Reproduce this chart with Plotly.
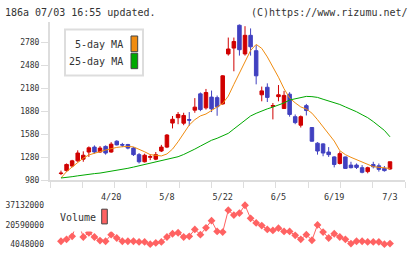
import numpy as np
import plotly.graph_objects as go

W, H = 420, 259

# ---- data ----
date_labels = ["4/20", "5/8", "5/22", "6/5", "6/19", "7/3"]
label_days = [9, 19, 29, 39, 49, 59]

price_ticks = [980, 1280, 1580, 1880, 2180, 2480, 2780]
vol_ticks = [4048000, 20590000, 37132000]

open_ = [1070, 1108, 1168, 1235, 1257, 1350, 1414, 1350, 1423, 1350,
         1491, 1448, 1448, 1401, 1316, 1223, 1282, 1257, 1363, 1414,
         1727, 1797, 1725, 1772, 1895, 2107, 1925, 2065, 2058, 1976,
         2627, 2703, 3000, 2627, 2869, 2669, 2095, 2193, 1945, 2071,
         1916, 2103, 1810, 1699, 1954, 1669, 1465, 1456, 1350, 1286,
         1201, 1286, 1180, 1180, 1146, 1095, 1188, 1171, 1137, 1129]
high = [1108, 1201, 1248, 1372, 1359, 1423, 1436, 1427, 1436, 1478,
        1503, 1469, 1456, 1414, 1337, 1329, 1321, 1350, 1443, 1584,
        1819, 1870, 1861, 1870, 2052, 2125, 2171, 2150, 2085, 2350,
        2840, 2840, 3010, 2988, 2959, 2742, 2202, 2244, 1988, 2222,
        2146, 2129, 1839, 1826, 1976, 1675, 1478, 1465, 1414, 1295,
        1359, 1290, 1223, 1201, 1180, 1159, 1223, 1201, 1168, 1223]
low = [1050, 1095, 1152, 1223, 1223, 1286, 1329, 1341, 1316, 1341,
       1436, 1414, 1385, 1299, 1201, 1214, 1244, 1244, 1350, 1401,
       1657, 1712, 1699, 1691, 1861, 1882, 1903, 1870, 1822, 1967,
       2605, 2401, 2605, 2605, 2605, 2231, 2010, 2001, 1775, 2010,
       1912, 1810, 1712, 1669, 1826, 1485, 1316, 1295, 1286, 1150,
       1188, 1133, 1137, 1129, 1073, 1073, 1137, 1095, 1095, 1120]
close = [1075, 1188, 1235, 1337, 1308, 1405, 1350, 1401, 1337, 1452,
         1443, 1440, 1401, 1316, 1223, 1308, 1290, 1316, 1414, 1571,
         1776, 1839, 1826, 1765, 1934, 1903, 2125, 1912, 1940, 2342,
         2691, 2789, 2682, 2869, 2720, 2342, 2146, 2061, 1955, 2095,
         2087, 1839, 1733, 1810, 1890, 1491, 1363, 1337, 1316, 1188,
         1329, 1137, 1146, 1150, 1086, 1146, 1159, 1124, 1108, 1223]
ma5 = [1012, 1095, 1155, 1216, 1270, 1312, 1337, 1355, 1376, 1395,
       1410, 1419, 1423, 1417, 1390, 1353, 1316, 1306, 1299, 1325,
       1388, 1484, 1599, 1701, 1771, 1820, 1845, 1886, 1937, 1982,
       2078, 2231, 2378, 2541, 2671, 2751, 2699, 2588, 2461, 2324,
       2174, 2052, 1990, 1937, 1909, 1856, 1771, 1682, 1593, 1493,
       1368, 1316, 1281, 1249, 1214, 1184, 1159, 1151, 1141, 1137]
ma25 = [1012, 1018, 1029, 1040, 1051, 1064, 1069, 1076, 1087, 1100,
        1114, 1126, 1138, 1154, 1171, 1184, 1203, 1216, 1233, 1251,
        1270, 1289, 1318, 1350, 1388, 1427, 1465, 1503, 1529, 1561,
        1593, 1650, 1708, 1765, 1819, 1854, 1886, 1912, 1935, 1960,
        1989, 2027, 2046, 2065, 2074, 2071, 2061, 2037, 2017, 1995,
        1969, 1937, 1908, 1874, 1835, 1797, 1746, 1689, 1631, 1548]
volume = [6550000, 8220000, 10720000, 24000000, 10170000, 13780000, 10170000, 7110000, 6550000, 12110000,
          9330000, 6550000, 6550000, 6550000, 6000000, 6000000, 4048000, 5160000, 6000000, 10170000,
          12940000, 13780000, 10170000, 10720000, 16560000, 12110000, 17950000, 24070000, 14890000, 14330000,
          32960000, 28790000, 30460000, 37132000, 26010000, 22120000, 19900000, 16560000, 15720000, 17670000,
          14890000, 14890000, 11550000, 8220000, 12110000, 7380000, 20450000, 14330000, 9330000, 12940000,
          10170000, 8220000, 4600000, 6550000, 6550000, 6000000, 6000000, 6000000, 4048000, 4600000]

days = list(range(len(close)))

# ---- styles ----
RED = "#d00000"
BLUE = "#4040c0"
ORANGE = "#f08c10"
GREEN = "#00a800"
VOLC = "#ff6262"
AXC = "#dddddd"
TXT = "#333333"
FONT = "DejaVu Sans Mono"


def px(p):
    return p / W


def py(p):
    return 1 - p / H


xr = [-1.97, 61.69]
yr = [980, 3048]
vr = [-952100, 44882155]

fig = go.Figure()
fig.add_trace(go.Candlestick(
    x=days, open=open_, high=high, low=low, close=close,
    increasing=dict(line=dict(color=RED, width=1), fillcolor=RED),
    decreasing=dict(line=dict(color=BLUE, width=1), fillcolor=BLUE),
    whiskerwidth=0, showlegend=False, hoverinfo="skip",
    xaxis="x", yaxis="y"))
fig.add_trace(go.Scatter(x=days, y=ma5, mode="lines", line=dict(color=ORANGE, width=1),
                         showlegend=False, hoverinfo="skip", xaxis="x", yaxis="y"))
fig.add_trace(go.Scatter(x=days, y=ma25, mode="lines", line=dict(color=GREEN, width=1),
                         showlegend=False, hoverinfo="skip", xaxis="x", yaxis="y"))
fig.add_trace(go.Scatter(x=days, y=volume, mode="lines+markers",
                         line=dict(color=VOLC, width=1),
                         marker=dict(symbol="diamond", size=6, color=VOLC),
                         showlegend=False, hoverinfo="skip", xaxis="x2", yaxis="y2"))

fig.update_layout(
    width=W, height=H, margin=dict(l=0, r=0, t=0, b=0),
    paper_bgcolor="white", plot_bgcolor="white", boxgap=0.1,
    showlegend=False,
    xaxis=dict(domain=[px(50), px(405)], range=xr, anchor="y",
               showline=True, linecolor=AXC, linewidth=2,
               tickmode="array", tickvals=label_days, ticktext=date_labels,
               ticks="", showgrid=False, zeroline=False,
               tickfont=dict(family=FONT, size=8.5, color=TXT),
               ticklabelstandoff=7,
               minor=dict(tickmode="array", tickvals=list(np.linspace(xr[0], xr[1], 12)),
                          ticks="outside", ticklen=6, tickcolor=AXC, tickwidth=1, showgrid=False),
               rangeslider=dict(visible=False)),
    yaxis=dict(domain=[py(184), py(22)], range=yr, anchor="x",
               showline=True, linecolor=AXC, linewidth=2,
               tickmode="array", tickvals=price_ticks,
               ticks="outside", ticklen=7, tickcolor=AXC, tickwidth=1,
               showgrid=False, zeroline=False,
               tickfont=dict(family=FONT, size=8, color=TXT)),
    xaxis2=dict(domain=[px(50), px(405)], range=xr, anchor="y2", visible=False),
    yaxis2=dict(domain=[py(255), py(200)], range=vr, anchor="x2",
                showline=False, ticks="", showgrid=False, zeroline=False,
                tickmode="array", tickvals=vol_ticks,
                ticktext=[str(v) for v in vol_ticks],
                ticklabelstandoff=5,
                tickfont=dict(family=FONT, size=8, color=TXT)),
)

shapes = [
    # price legend box
    dict(type="rect", xref="paper", yref="paper", x0=px(65), x1=px(143), y0=py(77), y1=py(30),
         fillcolor="white", line=dict(color=AXC, width=2), layer="above"),
    dict(type="rect", xref="paper", yref="paper", x0=px(131), x1=px(137.7), y0=py(52.7), y1=py(36.7),
         fillcolor=ORANGE, line=dict(color="#444444", width=1), layer="above"),
    dict(type="rect", xref="paper", yref="paper", x0=px(131), x1=px(137.7), y0=py(70), y1=py(54.3),
         fillcolor=GREEN, line=dict(color="#444444", width=1), layer="above"),
    # volume legend
    dict(type="rect", xref="paper", yref="paper", x0=px(55), x1=px(112), y0=py(236), y1=py(209),
         fillcolor="white", line=dict(width=0), layer="above"),
    dict(type="rect", xref="paper", yref="paper", x0=px(101.7), x1=px(107.3), y0=py(228.3), y1=py(213.3),
         fillcolor=VOLC, line=dict(color="#444444", width=1), layer="above"),
]

annotations = [
    dict(text="186a 07/03 16:55 updated.", x=px(3), y=py(13), xref="paper", yref="paper",
         xanchor="left", yanchor="middle", showarrow=False,
         font=dict(family=FONT, size=10, color=TXT)),
    dict(text="(C)https://www.rizumu.net/", x=px(410), y=py(13), xref="paper", yref="paper",
         xanchor="right", yanchor="middle", showarrow=False,
         font=dict(family=FONT, size=10, color=TXT)),
    dict(text="5-day MA", x=px(124.5), y=py(45.5), xref="paper", yref="paper",
         xanchor="right", yanchor="middle", showarrow=False,
         font=dict(family=FONT, size=10, color=TXT)),
    dict(text="25-day MA", x=px(124.5), y=py(63), xref="paper", yref="paper",
         xanchor="right", yanchor="middle", showarrow=False,
         font=dict(family=FONT, size=10, color=TXT)),
    dict(text="Volume", x=px(57.5), y=py(222), xref="paper", yref="paper",
         xanchor="left", yanchor="middle", showarrow=False,
         font=dict(family=FONT, size=10, color=TXT)),
]

fig.update_layout(shapes=shapes, annotations=annotations)
fig.write_html("out.html")
